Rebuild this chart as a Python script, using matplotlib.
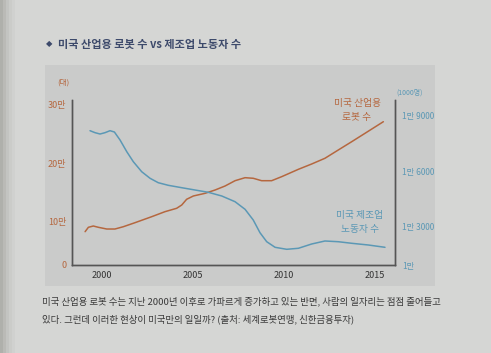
import matplotlib
matplotlib.use('Agg')
import matplotlib.pyplot as plt
import matplotlib.patches as patches

plt.rcParams['font.family'] = ['Noto Sans CJK KR', 'DejaVu Sans']

# --- data ---
robot_years = [1999.07, 1999.25, 1999.52, 1999.80, 2000.26, 2000.71, 2001.17, 2001.81,
               2002.73, 2003.46, 2004.10, 2004.38, 2004.65, 2005.02, 2005.66, 2006.21,
               2006.76, 2007.31, 2007.86, 2008.31, 2008.77, 2009.32, 2009.87, 2010.79,
               2011.52, 2012.25, 2012.98, 2013.72, 2014.45, 2015.46]
robots = [83.6, 91.0, 93.2, 91.0, 88.1, 88.1, 92.0, 98.8, 109.0, 117.5, 123.2, 128.8,
          138.5, 144.1, 148.6, 154.2, 161.0, 170.0, 175.1, 174.1, 170.0, 170.0, 176.8,
          189.3, 198.3, 208.0, 222.0, 236.1, 250.3, 270.0]  # 천 대

worker_years = [1999.34, 1999.62, 1999.89, 2000.16, 2000.44, 2000.68, 2000.99, 2001.36,
                2001.72, 2002.18, 2002.64, 2003.09, 2003.64, 2004.38, 2005.11, 2005.84,
                2006.58, 2007.31, 2007.86, 2008.31, 2008.68, 2009.05, 2009.51, 2010.15,
                2010.79, 2011.52, 2012.25, 2012.98, 2013.72, 2014.63, 2015.55]
workers = [18159, 18052, 17982, 18052, 18159, 18089, 17661, 17034, 16498, 15962, 15609,
           15373, 15234, 15105, 14982, 14859, 14661, 14355, 13948, 13375, 12695, 12212,
           11912, 11805, 11859, 12089, 12250, 12212, 12127, 12036, 11912]  # 1000명

x_ticks = [2000, 2005, 2010, 2015]
left_ticks = [100, 200, 300]
left_labels = ['10만', '20만', '30만']
right_ticks = [13000, 16000, 19000]
right_labels = ['1만 3000', '1만 6000', '1만 9000']

ORANGE = '#b5673f'
BLUE = '#5b98b5'
AXIS = '#555555'
PAGE = '#d5d6d4'
BOX = '#cacbca'

W, H = 491, 353
fig = plt.figure(figsize=(W / 100, H / 100), dpi=100, facecolor=PAGE)

def fx(px):
    return px / W

def fy(py):
    return 1 - py / H

# chart background box
fig.patches.append(patches.Rectangle((fx(45), fy(286)), fx(435) - fx(45), fy(65) - fy(286),
                                     transform=fig.transFigure, facecolor=BOX, edgecolor='none', zorder=-10))
# page shadow on the left edge
for i, a in enumerate([0.35, 0.25, 0.16, 0.09, 0.04]):
    fig.patches.append(patches.Rectangle((fx(i * 3), 0), fx(3), 1, transform=fig.transFigure,
                                         facecolor='#6a6a60', alpha=a, edgecolor='none', zorder=-10))

ax = fig.add_axes([fx(72), fy(265), fx(395) - fx(72), fy(100) - fy(265)])
ax.set_facecolor('none')
ax2 = ax.twinx()

ax.plot(robot_years, robots, color=ORANGE, lw=1.1, solid_capstyle='round', solid_joinstyle='round')
ax2.plot(worker_years, workers, color=BLUE, lw=1.1, solid_capstyle='round', solid_joinstyle='round')

ax.set_xlim(1998.35, 2016.1)
ax.set_ylim(27.1, 306.8)
ax2.set_ylim(10964, 19804)

ax.set_xticks(x_ticks)
ax.set_xticklabels([str(t) for t in x_ticks], fontsize=6.5, color='#333333')
ax.set_yticks([27.1] + left_ticks)
ax.set_yticklabels(['0'] + left_labels, fontsize=6.5, color=ORANGE)
ax2.set_yticks([10964] + right_ticks)
ax2.set_yticklabels(['1만'] + right_labels, fontsize=6, color=BLUE)

ax.tick_params(axis='both', length=0, pad=4)
ax2.tick_params(axis='y', length=0, pad=5)
for a in (ax, ax2):
    a.spines['top'].set_visible(False)
    for s in ('left', 'right', 'bottom'):
        a.spines[s].set_color(AXIS)
        a.spines[s].set_linewidth(1.0)

# labels
fig.text(fx(358), fy(103), '미국 산업용', color=ORANGE, fontsize=7, ha='center', va='center')
fig.text(fx(357), fy(117), '로봇 수', color=ORANGE, fontsize=7, ha='center', va='center')
fig.text(fx(360), fy(215), '미국 제조업', color=BLUE, fontsize=7, ha='center', va='center')
fig.text(fx(360), fy(229), '노동자 수', color=BLUE, fontsize=7, ha='center', va='center')
fig.text(fx(57), fy(83), '(대)', color=ORANGE, fontsize=5.5, ha='left', va='center')
fig.text(fx(396), fy(93), '(1000명)', color=BLUE, fontsize=5, ha='left', va='center')

# title
fig.text(fx(46), fy(44), '◆', color='#3d4a6b', fontsize=6, ha='left', va='center', family='DejaVu Sans')
fig.text(fx(58), fy(44), '미국 산업용 로봇 수 vs 제조업 노동자 수', color='#3d4a6b', fontsize=8,
         ha='left', va='center', fontweight='bold')

# caption
fig.text(fx(42), fy(301), '미국 산업용 로봇 수는 지난 2000년 이후로 가파르게 증가하고 있는 반면, 사람의 일자리는 점점 줄어들고',
         color='#3a3a3a', fontsize=6.8, ha='left', va='center')
fig.text(fx(42), fy(319), '있다. 그런데 이러한 현상이 미국만의 일일까? (출처: 세계로봇연맹, 신한금융투자)',
         color='#3a3a3a', fontsize=6.8, ha='left', va='center')

fig.savefig('out.png', dpi=100, facecolor=PAGE)
